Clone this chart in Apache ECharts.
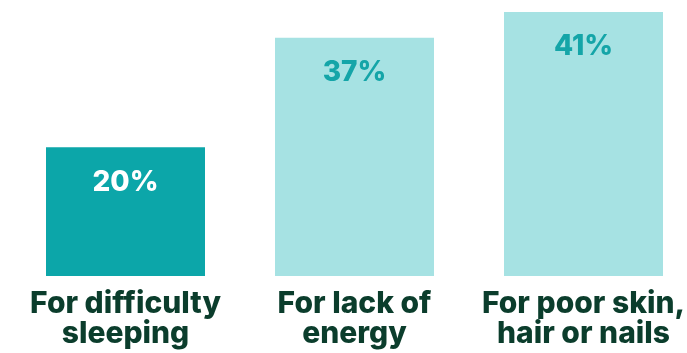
<!DOCTYPE html>
<html>
<head>
<meta charset="utf-8">
<script src="https://cdn.jsdelivr.net/npm/echarts@6/dist/echarts.min.js"></script>
<style>
  html, body { margin: 0; padding: 0; background: #ffffff; }
  #chart { width: 687px; height: 353px; }
</style>
</head>
<body>
<div id="chart"></div>
<script>
// Reasons given, and the share of respondents for each
const categories = ['For difficulty\nsleeping', 'For lack of\nenergy', 'For poor skin,\nhair or nails'];
const shares = [20, 37, 41];

const DARK_TEAL = '#0ca6a9';
const LIGHT_TEAL = '#a6e2e3';
const FONT = 'Inter, "Open Sans", sans-serif';

const chart = echarts.init(document.getElementById('chart'), null, { renderer: 'canvas' });

chart.setOption({
  animation: false,
  backgroundColor: '#ffffff',
  grid: {
    left: 11, width: 687, top: 12, bottom: 77,
    containLabel: false,
    outerBoundsMode: 'none'
  },
  xAxis: {
    type: 'category',
    data: categories,
    axisLine: { show: false },
    axisTick: { show: false },
    axisLabel: {
      margin: 13,
      color: '#0b3d2c',
      fontFamily: FONT,
      fontWeight: 800,
      fontSize: 30,
      lineHeight: 30,
      interval: 0
    }
  },
  yAxis: {
    type: 'value',
    min: 0,
    max: 41,
    show: false,
    splitLine: { show: false }
  },
  series: [{
    type: 'bar',
    barWidth: 159,
    data: shares.map((v, i) => ({
      value: v,
      itemStyle: { color: i === 0 ? DARK_TEAL : LIGHT_TEAL },
      label: { color: i === 0 ? '#ffffff' : '#14a5a8' }
    })),
    label: {
      show: true,
      position: 'insideTop',
      distance: 21,
      formatter: p => p.value + '%',
      fontFamily: FONT,
      fontWeight: 800,
      fontSize: 28
    }
  }]
});
</script>
</body>
</html>
